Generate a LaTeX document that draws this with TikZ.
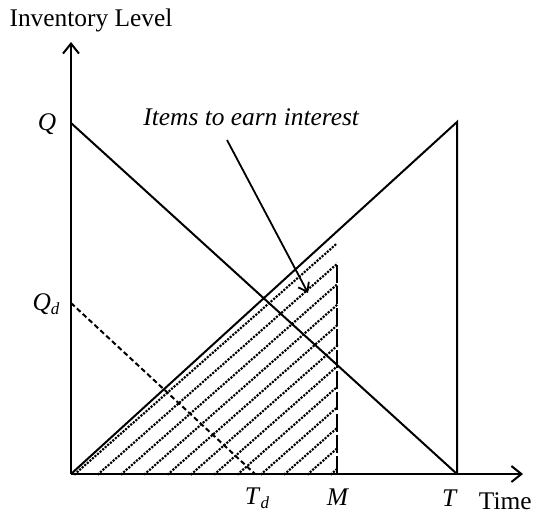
\documentclass[tikz,border=0pt]{standalone}
\usepackage{fontspec}
\setmainfont{Liberation Serif}
\usetikzlibrary{arrows.meta}
\newcommand{\sbd}[1]{\textit{#1}\raisebox{-0.35ex}{\fontsize{8.5}{9}\selectfont\textit{d}}}
\begin{document}
\begin{tikzpicture}[x=0.5pt,y=-0.5pt,
  every node/.style={inner sep=0pt,font=\fontsize{12.7}{15}\selectfont},
  axis/.style={line width=1pt,-{Straight Barb[length=5pt,width=8pt,line width=1pt]}},
  solidline/.style={line width=1pt},
  shortdash/.style={line width=1pt,dash pattern=on 2.5pt off 1.5pt},
  longdash/.style={line width=1pt,dash pattern=on 9pt off 1.6pt},
  hatchline/.style={line width=1.5pt,line cap=round,dash pattern=on 0pt off 1.7pt},
  pointer/.style={line width=0.9pt,-{Straight Barb[length=4pt,width=6pt,line width=0.9pt]}}]
\useasboundingbox (0,0) rectangle (533,512);
% key points
\coordinate (O) at (71,474);
\coordinate (ytop) at (71,42);
\coordinate (xend) at (523,474);
\coordinate (Qp) at (71,123);
\coordinate (Tp) at (457,474);
\coordinate (Ttop) at (457,122);
\coordinate (Qdp) at (71,303);
\coordinate (Tdp) at (255,474);
\coordinate (Mb) at (337,474);
\coordinate (Mt) at (337,262);
\coordinate (arrS) at (227,140);
\coordinate (arrE) at (308,293);
% hatching
\foreach \k in {0,...,11}{
  \pgfmathsetmacro{\xs}{75+23.3*\k}
  \pgfmathsetmacro{\ye}{474-(337-\xs)*0.88}
  \draw[hatchline] (\xs,474) -- (337,\ye);
}
% axes
\draw[axis] (O) -- (ytop);
\draw[axis] (O) -- (xend);
% lines
\draw[solidline] (Qp) -- (Tp);
\draw[solidline] (O) -- (Ttop) -- (Tp);
\draw[shortdash] (Qdp) -- (Tdp);
\draw[longdash] (Mb) -- (Mt);
\draw[pointer] (arrS) -- (arrE);
% labels
\node (ylab) at (91,20) {Inventory Level};
\node (qlab) at (47,124) {\textit{Q}};
\node (qdlab) at (46,304) {\sbd{Q}};
\node (tdlab) at (257,498) {\sbd{T}};
\node (mlab) at (338,497) {\textit{M}};
\node (tlab) at (450,498) {\textit{T}};
\node[anchor=east] (timelab) at (532,501) {Time};
\node[anchor=base west] (items) at (143,126) {\textit{Items to earn interest}};
\end{tikzpicture}
\end{document}
